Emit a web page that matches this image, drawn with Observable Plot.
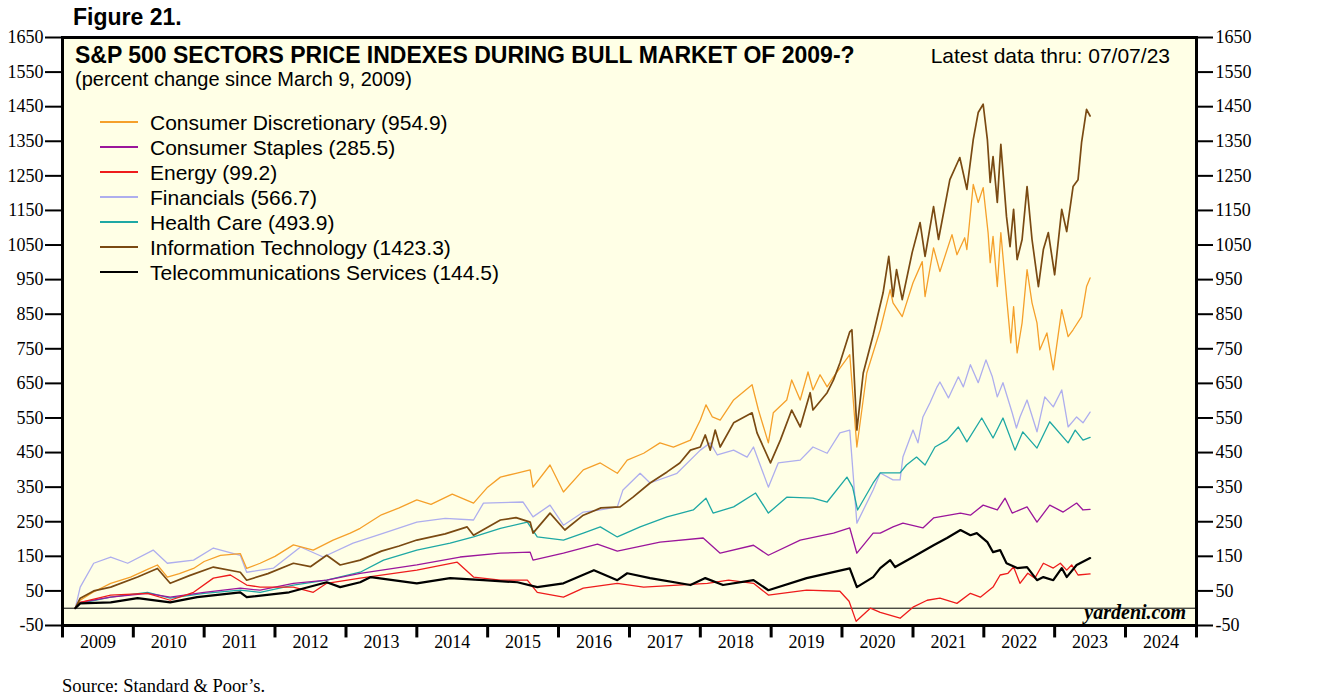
<!DOCTYPE html>
<html><head><meta charset="utf-8">
<script src="https://cdn.jsdelivr.net/npm/d3@7"></script>
<script src="https://cdn.jsdelivr.net/npm/@observablehq/plot@0.6"></script>
<style>
body{margin:0;background:#fff;}
#wrap{position:relative;width:1320px;height:696px;overflow:hidden;font-family:"Liberation Sans",Arial,sans-serif;color:#000;}
.abs{position:absolute;white-space:nowrap;line-height:1;transform:translateY(-50%);}
#chart{position:absolute;left:0;top:0;}
</style></head><body><div id="wrap"><div id="chart"></div></div>
<script>
// ---- data: [decimal year, percent change since March 9, 2009] ----
const consumerDiscretionary = [[2009.18,0],[2009.25,23],[2009.43,46],[2009.68,72],[2009.96,90],[2010.2,112],[2010.34,125],[2010.48,90],[2010.65,100],[2010.85,115],[2011.0,135],[2011.23,153],[2011.51,158],[2011.6,115],[2011.79,130],[2012.0,150],[2012.26,183],[2012.54,168],[2012.82,197],[2013.06,217],[2013.2,231],[2013.5,270],[2013.75,290],[2014.0,313],[2014.2,300],[2014.5,330],[2014.8,304],[2015.0,350],[2015.18,379],[2015.4,390],[2015.6,400],[2015.64,350],[2015.88,414],[2016.07,336],[2016.35,400],[2016.59,420],[2016.83,390],[2016.97,428],[2017.2,448],[2017.43,478],[2017.62,466],[2017.86,486],[2018.0,544],[2018.08,588],[2018.17,553],[2018.28,544],[2018.47,602],[2018.73,646],[2018.82,573],[2018.96,478],[2019.03,565],[2019.22,602],[2019.29,660],[2019.41,602],[2019.52,683],[2019.59,631],[2019.69,675],[2019.79,640],[2019.88,669],[2020.11,733],[2020.21,466],[2020.35,680],[2020.54,805],[2020.68,921],[2020.72,883],[2020.85,843],[2021.0,941],[2021.13,1002],[2021.17,901],[2021.29,1042],[2021.38,973],[2021.55,1080],[2021.62,1022],[2021.73,1071],[2021.76,1037],[2021.85,1225],[2021.92,1173],[2021.99,1216],[2022.06,1086],[2022.09,999],[2022.13,1075],[2022.19,930],[2022.24,1086],[2022.32,901],[2022.38,767],[2022.42,872],[2022.47,738],[2022.54,825],[2022.61,979],[2022.68,883],[2022.75,825],[2022.79,747],[2022.89,796],[2022.98,689],[2023.1,863],[2023.19,785],[2023.26,805],[2023.38,843],[2023.45,930],[2023.5,955]];
const consumerStaples = [[2009.18,0],[2009.25,17],[2009.68,32],[2010.2,43],[2010.52,32],[2011.0,46],[2011.51,58],[2011.79,52],[2012.26,72],[2012.73,81],[2013.2,101],[2014.0,125],[2014.61,148],[2015.18,159],[2015.6,162],[2015.64,139],[2016.07,159],[2016.55,185],[2016.83,165],[2017.43,191],[2018.04,203],[2018.28,159],[2018.75,182],[2018.96,153],[2019.41,197],[2019.88,217],[2020.11,232],[2020.21,159],[2020.44,217],[2020.54,217],[2020.72,235],[2020.86,246],[2021.14,232],[2021.29,261],[2021.67,275],[2021.81,269],[2021.99,298],[2022.19,284],[2022.3,318],[2022.4,275],[2022.61,293],[2022.75,249],[2022.93,298],[2023.12,278],[2023.31,304],[2023.4,284],[2023.5,286]];
const energy = [[2009.18,0],[2009.25,17],[2009.68,38],[2010.2,43],[2010.52,23],[2010.85,46],[2011.13,87],[2011.37,96],[2011.6,67],[2011.79,61],[2012.26,61],[2012.54,46],[2012.73,72],[2013.2,87],[2014.0,110],[2014.57,133],[2014.8,90],[2015.18,81],[2015.56,81],[2015.7,46],[2016.07,32],[2016.35,58],[2016.83,72],[2017.2,61],[2018.1,72],[2018.4,81],[2018.75,72],[2018.96,38],[2019.5,52],[2019.97,49],[2020.1,20],[2020.2,-38],[2020.4,0],[2020.54,-12],[2020.82,-29],[2021.0,3],[2021.2,23],[2021.38,29],[2021.62,14],[2021.81,43],[2021.95,32],[2022.13,61],[2022.23,96],[2022.34,101],[2022.42,119],[2022.51,72],[2022.62,101],[2022.72,87],[2022.84,130],[2022.98,116],[2023.08,130],[2023.17,110],[2023.24,125],[2023.33,96],[2023.5,99]];
const financials = [[2009.18,0],[2009.25,61],[2009.44,130],[2009.68,148],[2009.92,130],[2010.28,168],[2010.48,130],[2010.85,139],[2011.13,174],[2011.51,153],[2011.6,104],[2011.98,116],[2012.36,177],[2012.68,148],[2013.1,188],[2013.5,215],[2014.0,249],[2014.4,260],[2014.8,255],[2014.94,304],[2015.5,307],[2015.64,264],[2015.88,298],[2016.07,240],[2016.35,278],[2016.59,284],[2016.83,293],[2016.91,342],[2017.15,390],[2017.29,362],[2017.67,390],[2018.0,457],[2018.14,478],[2018.24,443],[2018.47,457],[2018.66,437],[2018.75,466],[2018.96,350],[2019.1,420],[2019.41,428],[2019.59,466],[2019.79,448],[2019.97,507],[2020.11,515],[2020.21,246],[2020.44,342],[2020.54,391],[2020.72,371],[2020.82,371],[2020.86,437],[2021.0,515],[2021.07,478],[2021.14,553],[2021.24,594],[2021.34,640],[2021.38,654],[2021.5,608],[2021.64,669],[2021.71,640],[2021.81,704],[2021.92,652],[2022.03,718],[2022.12,669],[2022.19,611],[2022.27,652],[2022.4,565],[2022.46,521],[2022.51,553],[2022.61,602],[2022.75,510],[2022.86,611],[2022.98,582],[2023.1,631],[2023.19,524],[2023.31,553],[2023.4,536],[2023.5,567]];
const healthCare = [[2009.18,0],[2009.25,14],[2009.68,32],[2010.2,46],[2010.52,29],[2011.0,43],[2011.51,52],[2011.79,46],[2012.26,67],[2012.73,81],[2013.2,104],[2013.53,139],[2014.0,168],[2014.47,188],[2014.8,206],[2015.18,231],[2015.56,249],[2015.7,206],[2016.07,197],[2016.35,217],[2016.59,235],[2016.83,206],[2017.15,235],[2017.53,264],[2017.9,284],[2018.08,318],[2018.18,275],[2018.47,293],[2018.78,333],[2018.96,275],[2019.22,321],[2019.59,318],[2019.79,307],[2020.07,379],[2020.15,350],[2020.22,284],[2020.44,362],[2020.54,391],[2020.82,391],[2020.91,414],[2021.05,437],[2021.17,414],[2021.31,466],[2021.48,486],[2021.64,524],[2021.76,481],[2021.97,550],[2022.13,492],[2022.27,550],[2022.44,457],[2022.55,510],[2022.75,463],[2022.93,539],[2023.19,478],[2023.29,515],[2023.4,486],[2023.5,494]];
const informationTechnology = [[2009.18,0],[2009.25,29],[2009.44,50],[2009.68,61],[2010.06,90],[2010.34,115],[2010.52,72],[2010.8,95],[2011.13,119],[2011.51,104],[2011.6,81],[2011.9,100],[2012.26,130],[2012.5,120],[2012.73,153],[2012.92,125],[2013.2,139],[2013.5,165],[2013.75,180],[2014.0,197],[2014.4,215],[2014.71,235],[2014.8,211],[2015.18,255],[2015.4,262],[2015.6,249],[2015.64,217],[2015.88,275],[2016.09,226],[2016.35,269],[2016.6,290],[2016.87,293],[2017.05,321],[2017.29,362],[2017.53,394],[2017.71,420],[2017.86,457],[2018.0,466],[2018.07,501],[2018.14,457],[2018.21,515],[2018.28,466],[2018.47,536],[2018.73,565],[2018.8,507],[2018.99,420],[2019.13,486],[2019.29,573],[2019.41,524],[2019.55,623],[2019.59,573],[2019.79,623],[2019.88,660],[2019.97,709],[2020.11,799],[2020.14,805],[2020.21,515],[2020.3,680],[2020.44,790],[2020.58,912],[2020.66,1017],[2020.72,901],[2020.77,979],[2020.85,892],[2020.99,1028],[2021.1,1115],[2021.17,1017],[2021.29,1161],[2021.36,1066],[2021.52,1239],[2021.66,1303],[2021.76,1211],[2021.85,1355],[2021.92,1433],[2021.99,1457],[2022.05,1355],[2022.09,1231],[2022.13,1306],[2022.19,1173],[2022.24,1341],[2022.32,1132],[2022.37,1045],[2022.42,1153],[2022.47,1008],[2022.54,1066],[2022.61,1219],[2022.68,1066],[2022.77,930],[2022.84,1037],[2022.91,1086],[2023.0,964],[2023.1,1153],[2023.17,1089],[2023.26,1219],[2023.33,1239],[2023.38,1347],[2023.45,1442],[2023.5,1423]];
const telecommunications = [[2009.18,0],[2009.25,14],[2009.68,17],[2010.06,29],[2010.52,17],[2010.9,32],[2011.51,46],[2011.6,32],[2012.2,46],[2012.73,75],[2012.92,61],[2013.2,75],[2013.35,90],[2014.0,72],[2014.47,87],[2014.94,81],[2015.42,75],[2015.7,61],[2016.07,72],[2016.5,110],[2016.83,81],[2016.97,101],[2017.29,87],[2017.86,67],[2018.07,87],[2018.32,67],[2018.75,81],[2018.96,52],[2019.5,87],[2020.11,115],[2020.21,61],[2020.44,90],[2020.54,116],[2020.68,139],[2020.75,119],[2021.0,148],[2021.29,182],[2021.48,203],[2021.67,226],[2021.81,211],[2021.9,217],[2022.05,191],[2022.13,162],[2022.23,168],[2022.32,130],[2022.47,116],[2022.61,119],[2022.75,81],[2022.84,90],[2022.98,81],[2023.1,116],[2023.17,90],[2023.31,125],[2023.5,145]];

const sectorNames = ["Consumer Discretionary","Consumer Staples","Energy","Financials","Health Care","Information Technology","Telecommunications Services"];
const latestValues = ["954.9","285.5","99.2","566.7","493.9","1423.3","144.5"];
const sectorColors = ["#F5A02A","#9B169B","#EE1C1C","#AEAEEE","#1EA8A4","#7A4A12","#000000"];
const sectorWidths = [1.3,1.3,1.3,1.3,1.3,1.7,2.2];
const sectorData = [consumerDiscretionary,consumerStaples,energy,financials,healthCare,informationTechnology,telecommunications];
const drawOrder = [3,4,1,2,0,5,6];
const yTicks = d3.range(-50, 1651, 100);
const years = d3.range(2009, 2025);

const toDate = y => { const f = Math.floor(y); return new Date(Date.UTC(f,0,1) + (y - f) * 365.25 * 864e5); };

const lineMarks = drawOrder.map(i => Plot.line(sectorData[i], {
  x: d => toDate(d[0]), y: d => d[1], stroke: sectorColors[i], strokeWidth: sectorWidths[i], curve: "linear"
}));

const serif = "'Liberation Serif','Times New Roman',serif";
const chart = Plot.plot({
  width: 1320, height: 660,
  marginLeft: 62, marginRight: 124, marginTop: 37, marginBottom: 35,
  x: {type: "utc", domain: [new Date(Date.UTC(2009,0,1)), new Date(Date.UTC(2025,0,1))], axis: null},
  y: {domain: [-50, 1650]},
  style: {background: "transparent", overflow: "visible", color: "#000"},
  marks: [
    Plot.frame({fill: "#FFFFE6", stroke: null}),
    Plot.ruleY([0], {stroke: "#000", strokeWidth: 1}),
    ...lineMarks,
    Plot.frame({stroke: "#000", strokeWidth: 3}),
    Plot.axisY(yTicks, {anchor: "left", tickSize: 17, tickPadding: 2, fontSize: 18, fontFamily: serif, strokeWidth: 2, label: null, tickFormat: d => String(d)}),
    Plot.axisY(yTicks, {anchor: "right", tickSize: 16, tickPadding: 3, fontSize: 18, fontFamily: serif, strokeWidth: 2, label: null, tickFormat: d => String(d)}),
    Plot.ruleX(years.concat([2025]), {x: d => toDate(d), y1: -50, y2: -86, stroke: "#000", strokeWidth: 3}),
    Plot.text(years, {x: d => toDate(d + 0.5), y: -50, dy: 17, text: d => String(d), fontSize: 18, fontFamily: serif, fill: "#000"})
  ]
});
document.getElementById("chart").appendChild(chart);

// ---- overlay text ----
const wrap = document.getElementById("wrap");
function put(txt, x, y, css, right) {
  const d = document.createElement("div");
  d.className = "abs";
  d.textContent = txt;
  if (right) { d.style.right = (1320 - x) + "px"; } else { d.style.left = x + "px"; }
  d.style.top = y + "px";
  d.style.cssText += css;
  wrap.appendChild(d);
  return d;
}
put("Figure 21.", 73, 17, "font-weight:bold;font-size:23px;");
put("S&P 500 SECTORS PRICE INDEXES DURING BULL MARKET OF 2009-?", 75, 55, "font-weight:bold;font-size:23px;");
put("(percent change since March 9, 2009)", 75, 79, "font-size:20px;");
put("Latest data thru: 07/07/23", 1170, 55, "font-size:21px;", true);
sectorNames.forEach((n, i) => {
  const y = 122 + 25 * i;
  const h = sectorWidths[i] > 2 ? 2.5 : 1.6;
  const ln = document.createElement("div");
  ln.style.cssText = `position:absolute;left:100px;width:38px;top:${y - h / 2}px;height:${h}px;background:${sectorColors[i]};`;
  wrap.appendChild(ln);
  put(`${n} (${latestValues[i]})`, 150, y, "font-size:21px;");
});
put("yardeni.com", 1186, 612, `font-family:${serif};font-weight:bold;font-style:italic;font-size:20px;`, true);
put("Source: Standard & Poor\u2019s.", 62, 686, `font-family:${serif};font-size:18.5px;`);
</script>
</body></html>
